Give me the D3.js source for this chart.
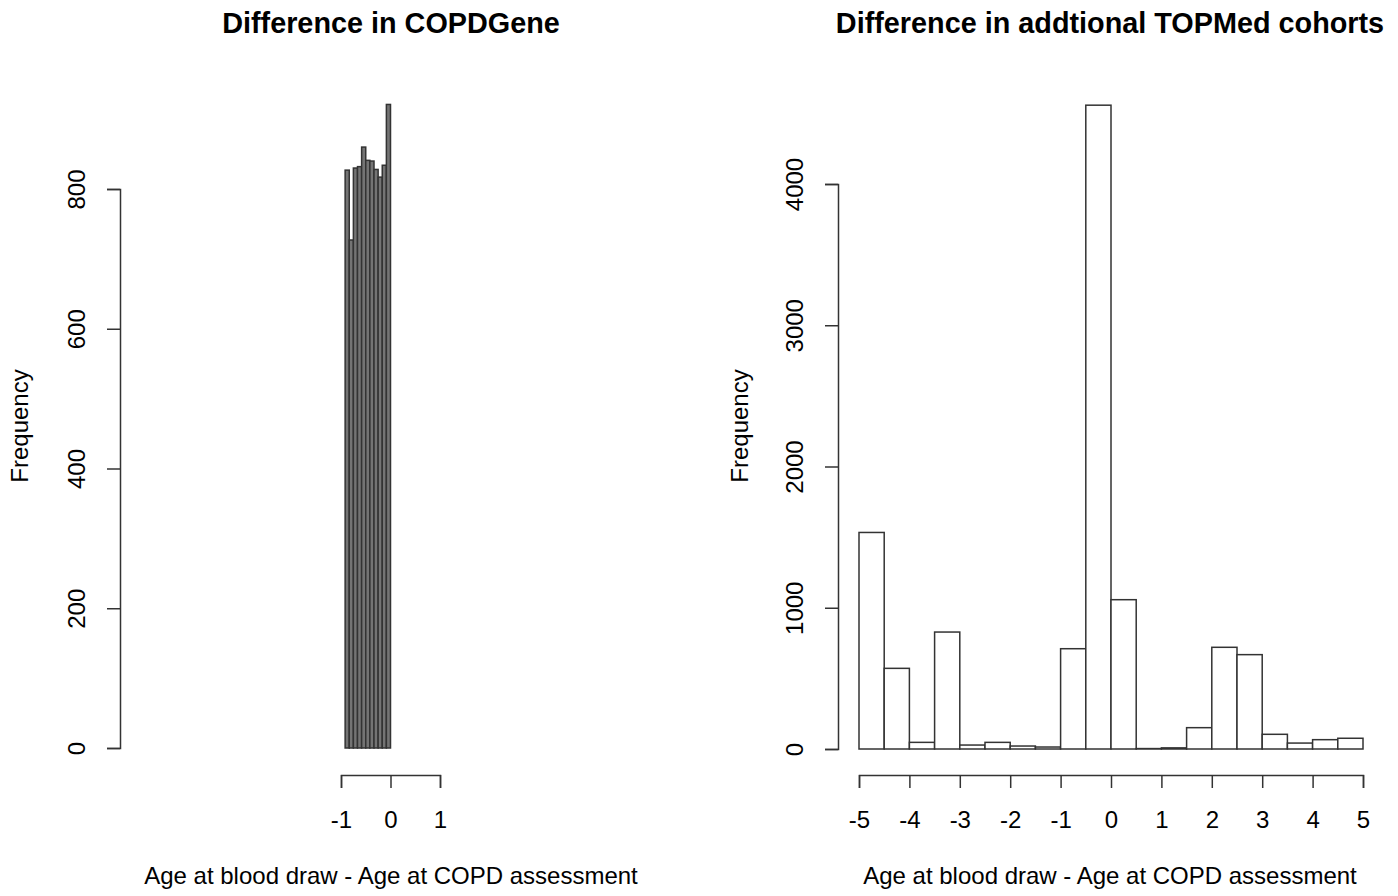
<!DOCTYPE html>
<html>
<head>
<meta charset="utf-8">
<script src="https://cdn.jsdelivr.net/npm/d3@7"></script>
<style>
  body { margin: 0; background: #fff; }
  text { font-family: "Liberation Sans", Arial, sans-serif; fill: #000; }
  .axis path, .axis line { stroke: #333; stroke-width: 1.5; }
  .title { font-size: 28.8px; font-weight: bold; }
  .axis-label { font-size: 24px; }
</style>
</head>
<body>
<div id="chart-area"></div>
<script>

// SVG Size
var width = 1398,
    height = 896;

// COPDGene: monthly bins from -11/12 to 0
var copdBreaks = [-11/12, -10/12, -9/12, -8/12, -7/12, -6/12, -5/12, -4/12, -3/12, -2/12, -1/12, 0];
var copdCounts = [827, 727, 830, 832, 860, 841, 840, 828, 817, 834, 921];

// Additional TOPMed cohorts: half-year bins from -5 to 5
var topmedBreaks = [-5, -4.5, -4, -3.5, -3, -2.5, -2, -1.5, -1, -0.5, 0, 0.5, 1, 1.5, 2, 2.5, 3, 3.5, 4, 4.5, 5];
var topmedCounts = [1533, 571, 47, 828, 28, 47, 21, 14, 710, 4558, 1057, 3, 8, 151, 720, 668, 104, 42, 66, 76];

// Tick labels
var copdXTicks = [-1, 0, 1];
var copdYTicks = [0, 200, 400, 600, 800];
var topmedXTicks = [-5, -4, -3, -2, -1, 0, 1, 2, 3, 4, 5];
var topmedYTicks = [0, 1000, 2000, 3000, 4000];

var svg = d3.select("#chart-area").append("svg")
    .attr("width", width)
    .attr("height", height);

// Draw one R-style histogram panel
function drawPanel(opt) {

  var g = svg.append("g");

  var x = d3.scaleLinear().domain(opt.xDomain).range(opt.xRange);
  var y = d3.scaleLinear().domain(opt.yDomain).range(opt.yRange);

  var bins = opt.counts.map(function(c, i) {
    return { x0: opt.breaks[i], x1: opt.breaks[i + 1], n: c };
  });

  // Bars
  g.selectAll("rect.bar")
    .data(bins)
    .enter()
    .append("rect")
    .attr("class", "bar")
    .attr("x", function(d){ return x(d.x0); })
    .attr("width", function(d){ return x(d.x1) - x(d.x0); })
    .attr("y", function(d){ return y(d.n); })
    .attr("height", function(d){ return y(0) - y(d.n); })
    .attr("fill", opt.fill)
    .attr("stroke", "#333")
    .attr("stroke-width", 1.5);

  // X axis
  var xAxis = d3.axisBottom(x)
    .tickValues(opt.xTicks)
    .tickSize(13)
    .tickSizeOuter(13)
    .tickFormat(d3.format("d"));

  var xg = g.append("g")
    .attr("class", "axis")
    .attr("transform", "translate(0," + opt.xAxisY + ")")
    .call(xAxis);
  xg.select(".domain").attr("fill", "none");
  xg.selectAll(".tick text")
    .attr("y", 53)
    .attr("dy", 0)
    .style("font-size", "24px")
    .text(function(d){ return d < 0 ? "-" + Math.abs(d) : d; });

  // Y axis
  var yAxis = d3.axisLeft(y)
    .tickValues(opt.yTicks)
    .tickSize(13)
    .tickSizeOuter(13)
    .tickFormat(d3.format("d"));

  var yg = g.append("g")
    .attr("class", "axis")
    .attr("transform", "translate(" + opt.yAxisX + ",0)")
    .call(yAxis);
  yg.select(".domain").attr("fill", "none");
  yg.selectAll(".tick text")
    .attr("x", 0)
    .attr("y", -35)
    .attr("dy", 0)
    .attr("transform", "rotate(-90)")
    .style("text-anchor", "middle")
    .style("font-size", "24px");

  // Title
  g.append("text")
    .attr("class", "title")
    .attr("x", opt.center)
    .attr("y", 33)
    .style("text-anchor", "middle")
    .text(opt.title);

  // X label
  g.append("text")
    .attr("class", "axis-label")
    .attr("x", opt.center)
    .attr("y", 884)
    .style("text-anchor", "middle")
    .text("Age at blood draw - Age at COPD assessment");

  // Y label
  g.append("text")
    .attr("class", "axis-label")
    .attr("transform", "translate(" + opt.ylabX + ",426) rotate(-90)")
    .style("text-anchor", "middle")
    .text("Frequency");
}

drawPanel({
  breaks: copdBreaks,
  counts: copdCounts,
  fill: "#747474",
  xDomain: [-1, 1], xRange: [341, 440],
  yDomain: [0, 800], yRange: [748, 189],
  xTicks: copdXTicks, yTicks: copdYTicks,
  xAxisY: 775, yAxisX: 120,
  center: 391, ylabX: 28,
  title: "Difference in COPDGene"
});

drawPanel({
  breaks: topmedBreaks,
  counts: topmedCounts,
  fill: "#fff",
  xDomain: [-5, 5], xRange: [859, 1363],
  yDomain: [0, 4000], yRange: [749, 184],
  xTicks: topmedXTicks, yTicks: topmedYTicks,
  xAxisY: 775, yAxisX: 838,
  center: 1110, ylabX: 748,
  title: "Difference in addtional TOPMed cohorts"
});

</script>
</body>
</html>
